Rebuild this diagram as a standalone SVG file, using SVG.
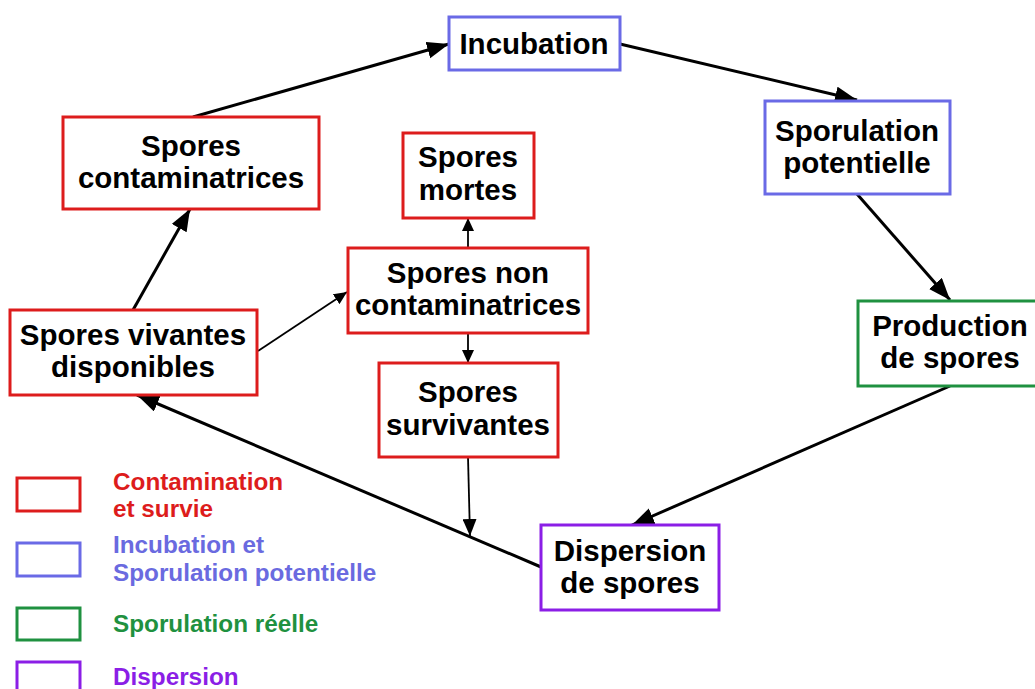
<svg xmlns="http://www.w3.org/2000/svg" width="1035" height="689" viewBox="0 0 1035 689">
<style>
.box{fill:#fff;stroke-width:3}
.red{stroke:#dd1c1c}
.blue{stroke:#6a6ae6}
.green{stroke:#1f9140}
.purple{stroke:#8b1ee6}
.t{font-family:"Liberation Sans",Arial,sans-serif;font-weight:bold;font-size:29.5px;fill:#000;text-anchor:middle}
.lg{font-family:"Liberation Sans",Arial,sans-serif;font-weight:bold;font-size:24.3px}
.e{stroke:#000;fill:none;stroke-width:3}
.thin{stroke:#000;fill:none;stroke-width:1.8}
</style>
<defs>
<marker id="ah" markerUnits="userSpaceOnUse" markerWidth="24" markerHeight="18" refX="22" refY="8.5" orient="auto"><path d="M0,0 L22,8.5 L0,17 z" fill="#000"/></marker>
<marker id="am" markerUnits="userSpaceOnUse" markerWidth="18" markerHeight="14" refX="17" refY="7" orient="auto"><path d="M0,0 L17,7 L0,14 z" fill="#000"/></marker>
<marker id="as" markerUnits="userSpaceOnUse" markerWidth="14" markerHeight="12" refX="13" refY="6" orient="auto"><path d="M0,0 L13,6 L0,12 z" fill="#000"/></marker>
</defs>
<rect width="1035" height="689" fill="#fff"/>
<g id="connectors">
<line class="e" x1="193" y1="117" x2="449" y2="44" marker-end="url(#ah)"/>
<line class="e" x1="620" y1="44" x2="857" y2="100" marker-end="url(#ah)"/>
<line class="e" x1="857" y1="194" x2="950" y2="300" marker-end="url(#ah)"/>
<line class="e" x1="950" y1="386" x2="632" y2="525" marker-end="url(#ah)"/>
<line class="e" x1="541" y1="567" x2="137" y2="395" marker-end="url(#ah)"/>
<line class="e" x1="133" y1="310" x2="190" y2="209" marker-end="url(#ah)"/>
<line class="thin" x1="258" y1="351" x2="347" y2="292" marker-end="url(#as)"/>
<line class="thin" x1="468" y1="248" x2="468" y2="218" marker-end="url(#as)"/>
<line class="thin" x1="468" y1="333" x2="468" y2="363" marker-end="url(#as)"/>
<line class="thin" x1="468" y1="457" x2="470" y2="536" stroke-width="2" marker-end="url(#am)"/>
</g>
<g id="incubation"><rect class="box blue" x="449" y="17" width="171" height="53"/><text class="t" x="534" y="54">Incubation</text></g>
<g id="sporulation-potentielle"><rect class="box blue" x="765" y="101" width="185" height="93"/><text class="t" x="857" y="141">Sporulation</text><text class="t" x="857" y="173">potentielle</text></g>
<g id="production-spores"><rect class="box green" x="858" y="301" width="184" height="85"/><text class="t" x="950" y="336">Production</text><text class="t" x="950" y="368">de spores</text></g>
<g id="dispersion-spores"><rect class="box purple" x="541" y="525" width="178" height="85"/><text class="t" x="630" y="561">Dispersion</text><text class="t" x="630" y="593">de spores</text></g>
<g id="spores-vivantes"><rect class="box red" x="10" y="310" width="247" height="85"/><text class="t" x="133" y="345">Spores vivantes</text><text class="t" x="133" y="377">disponibles</text></g>
<g id="spores-contaminatrices"><rect class="box red" x="63" y="117" width="256" height="92"/><text class="t" x="191" y="156">Spores</text><text class="t" x="191" y="188">contaminatrices</text></g>
<g id="spores-mortes"><rect class="box red" x="403" y="133" width="131" height="85"/><text class="t" x="468" y="167">Spores</text><text class="t" x="468" y="200">mortes</text></g>
<g id="spores-non-contaminatrices"><rect class="box red" x="348" y="248" width="240" height="85"/><text class="t" x="468" y="283">Spores non</text><text class="t" x="468" y="315">contaminatrices</text></g>
<g id="spores-survivantes"><rect class="box red" x="379" y="363" width="179" height="94"/><text class="t" x="468" y="402">Spores</text><text class="t" x="468" y="435">survivantes</text></g>
<g id="legend">
<rect class="box red" x="17" y="478" width="63" height="33"/>
<text class="lg" x="113" y="490" fill="#dd1c1c">Contamination</text>
<text class="lg" x="113" y="517" fill="#dd1c1c">et survie</text>
<rect class="box blue" x="17" y="543" width="63" height="33"/>
<text class="lg" x="113" y="553" fill="#6a6ae0">Incubation et</text>
<text class="lg" x="113" y="581" fill="#6a6ae0">Sporulation potentielle</text>
<rect class="box green" x="17" y="608" width="63" height="32"/>
<text class="lg" x="113" y="632" fill="#1f9140">Sporulation réelle</text>
<rect class="box purple" x="17" y="662" width="63" height="33"/>
<text class="lg" x="113" y="685" fill="#8b1ee6">Dispersion</text>
</g>
</svg>
